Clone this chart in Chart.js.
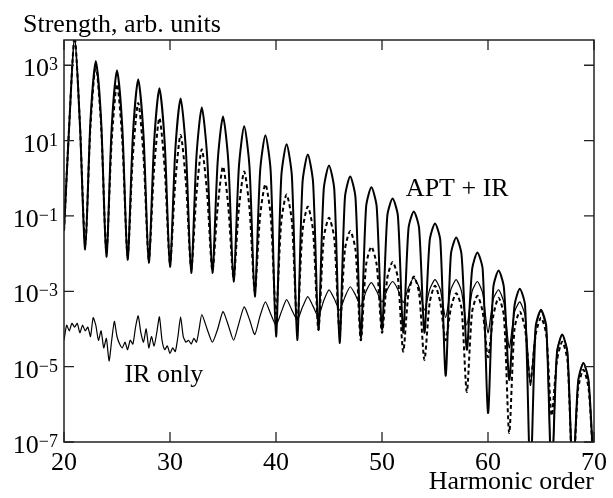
<!DOCTYPE html>
<html>
<head>
<meta charset="utf-8">
<script src="https://cdn.jsdelivr.net/npm/chart.js@4.4.1/dist/chart.umd.min.js"></script>
<style>
  body { margin: 0; background: #fff; }
  #wrap { width: 613px; height: 498px; position: relative; }
</style>
</head>
<body>
<div id="wrap"><canvas id="myChart"></canvas></div>
<script>
// values are log10 of strength
// peaks sit on odd harmonics 21..69, troughs on even harmonics 20..70,
// "mid" = level half an order away from each peak
const peakOrders = [21, 23, 25, 27, 29, 31, 33, 35, 37, 39, 41, 43, 45, 47, 49, 51, 53, 55, 57, 59, 61, 63, 65, 67, 69];
const troughOrders = [20, 22, 24, 26, 28, 30, 32, 34, 36, 38, 40, 42, 44, 46, 48, 50, 52, 54, 56, 58, 60, 62, 64, 66, 68, 70];

// APT + IR, solid
const solidPeak = [3.75, 3.11, 2.87, 2.63, 2.39, 2.12, 1.88, 1.64, 1.38, 1.14, 0.90, 0.63, 0.34, 0.05, -0.24, -0.54, -0.88, -1.20, -1.57, -1.97, -2.45, -2.93, -3.49, -4.15, -4.90];
const solidMid = [1.45, 1.55, 1.35, 1.15, 0.95, 0.75, 0.6, 0.45, 0.3, 0.18, 0.05, -0.12, -0.3, -0.52, -0.76, -1.0, -1.33, -1.65, -2.02, -2.42, -2.90, -3.38, -3.94, -4.65, -5.40];
const solidTrough = [-1.4, -1.89, -2.08, -2.16, -2.24, -2.35, -2.51, -2.51, -2.74, -3.14, -4.2, -4.29, -4.02, -4.37, -4.23, -4.02, -4.1, -4.1, -5.24, -4.55, -6.23, -5.35, -8, -8, -8, -8];

// dashed curve
const dashPeak = [3.75, 3.0, 2.5, 2.0, 1.6, 1.15, 0.77, 0.31, 0.18, -0.16, -0.43, -0.75, -1.05, -1.40, -1.82, -2.22, -2.61, -2.85, -3.05, -3.12, -3.17, -3.54, -3.70, -4.34, -5.08];
const dashMid = [1.45, 1.4, 1.0, 0.6, 0.25, -0.1, -0.4, -0.75, -0.8, -1.0, -1.15, -1.4, -1.6, -1.9, -2.3, -2.65, -3.05, -3.3, -3.45, -3.55, -3.65, -4.0, -4.15, -4.85, -5.6];
const dashTrough = [-1.4, -1.75, -1.95, -2.05, -2.15, -2.25, -2.4, -2.45, -2.65, -3.0, -3.6, -3.9, -4.02, -4.1, -4.3, -4.1, -4.6, -4.82, -4.3, -5.67, -4.75, -6.76, -5.4, -6.3, -8, -8];

// IR only: 20..32.75 every 0.25 (one row per order)
const irFine = [
  -4.3, -3.9, -4.05, -3.85,
  -3.95, -3.85, -4.1, -3.9,
  -4.05, -3.95, -4.2, -3.7,
  -3.9, -4.3, -4.05, -4.5,
  -4.25, -4.85, -4.3, -3.8,
  -4.2, -4.4, -4.5, -4.35,
  -4.55, -4.3, -4.4, -3.95,
  -3.65, -4.1, -4.35, -4.0,
  -4.5, -4.2, -4.45, -4.1,
  -3.68, -4.3, -4.55, -4.45,
  -4.65, -4.5, -4.6, -4.2,
  -3.68, -4.2, -4.35, -4.3,
  -4.4, -4.25, -4.35, -4.0
];
// IR only: 33..70 every 0.5
const irCoarse = [
  -3.62, -4.0, -4.35, -4.0, -3.54, -3.9, -4.3, -3.85,
  -3.41, -3.75, -4.15, -3.65, -3.28, -3.6, -3.9, -3.55,
  -3.22, -3.5, -3.76, -3.42, -3.14, -3.4, -3.67, -3.25,
  -2.96, -3.2, -3.5, -3.15, -2.88, -3.1, -3.4, -3.0,
  -2.77, -3.0, -3.28, -2.95, -2.74, -2.95, -3.3, -2.9,
  -2.64, -2.9, -3.5, -2.95, -2.69, -2.95, -3.7, -2.95,
  -2.69, -3.0, -3.9, -3.0, -2.74, -3.05, -4.1, -3.2,
  -2.96, -3.3, -4.5, -3.55, -3.28, -3.65, -5.5, -3.95,
  -3.52, -4.0, -8, -4.6, -4.15, -4.6, -8, -5.4,
  -4.9, -5.4, -8
];

const yTickExps = [-7, -5, -3, -1, 1, 3];
const xTicks = [20, 30, 40, 50, 60, 70];

function buildFringes(peak, mid, trough) {
  const pts = [];
  for (let i = 0; i < troughOrders.length; i++) {
    pts.push({ x: troughOrders[i], y: Math.pow(10, trough[i]) });
    if (i < peakOrders.length) {
      const h = peakOrders[i];
      pts.push({ x: h - 0.5, y: Math.pow(10, mid[i]) });
      pts.push({ x: h, y: Math.pow(10, peak[i]) });
      pts.push({ x: h + 0.5, y: Math.pow(10, mid[i]) });
    }
  }
  return pts;
}

const irPts = [];
irFine.forEach((v, i) => irPts.push({ x: 20 + i * 0.25, y: Math.pow(10, v) }));
irCoarse.forEach((v, i) => irPts.push({ x: 33 + i * 0.5, y: Math.pow(10, v) }));

const FONT = '"Liberation Serif", "Times New Roman", serif';

const framePlugin = {
  id: 'frame',
  afterDraw(chart) {
    const ctx = chart.ctx;
    const a = chart.chartArea;
    const xs = chart.scales.x, ys = chart.scales.y;
    ctx.save();
    ctx.strokeStyle = '#222';
    ctx.lineWidth = 1.5;
    ctx.strokeRect(a.left, a.top, a.right - a.left, a.bottom - a.top);
    // inward ticks
    ctx.lineWidth = 1.3;
    ctx.beginPath();
    xTicks.forEach(v => {
      const px = xs.getPixelForValue(v);
      ctx.moveTo(px, a.bottom); ctx.lineTo(px, a.bottom - 10);
      ctx.moveTo(px, a.top); ctx.lineTo(px, a.top + 10);
    });
    yTickExps.forEach(e => {
      const py = ys.getPixelForValue(Math.pow(10, e));
      ctx.moveTo(a.left, py); ctx.lineTo(a.left + 10, py);
      ctx.moveTo(a.right, py); ctx.lineTo(a.right - 10, py);
    });
    ctx.stroke();

    // y tick labels 10^n
    ctx.fillStyle = '#000';
    ctx.textAlign = 'right';
    ctx.textBaseline = 'alphabetic';
    yTickExps.forEach(e => {
      const py = ys.getPixelForValue(Math.pow(10, e));
      const expText = e < 0 ? '\u2212' + Math.abs(e) : String(e);
      const right = a.left - 6;
      ctx.font = '18px ' + FONT;
      const w = ctx.measureText(expText).width;
      ctx.fillText(expText, right, py + 5);
      ctx.font = '26px ' + FONT;
      ctx.fillText('10', right - w, py + 11);
    });

    // titles and curve labels
    ctx.font = '26px ' + FONT;
    ctx.textAlign = 'left';
    ctx.fillText('Strength, arb. units', a.left - 41, a.top - 8);
    ctx.textAlign = 'right';
    ctx.fillText('Harmonic order', a.right, chart.height - 9);
    ctx.textAlign = 'left';
    ctx.fillText('APT + IR', xs.getPixelForValue(52.25), ys.getPixelForValue(Math.pow(10, -0.48)));
    ctx.fillText('IR only', xs.getPixelForValue(25.7), ys.getPixelForValue(Math.pow(10, -5.4)));
    ctx.restore();
  }
};

const ctx = document.getElementById('myChart').getContext('2d');
const myChart = new Chart(ctx, {
  type: 'line',
  data: {
    datasets: [{
      label: 'APT + IR',
      data: buildFringes(solidPeak, solidMid, solidTrough),
      borderColor: '#000',
      borderWidth: 2,
      pointRadius: 0,
      tension: 0.25
    }, {
      label: 'APT + IR (dashed)',
      data: buildFringes(dashPeak, dashMid, dashTrough),
      borderColor: '#000',
      borderWidth: 2,
      borderDash: [4, 3],
      pointRadius: 0,
      tension: 0.25
    }, {
      label: 'IR only',
      data: irPts,
      borderColor: '#000',
      borderWidth: 1.2,
      pointRadius: 0,
      tension: 0.2
    }]
  },
  options: {
    responsive: true,
    maintainAspectRatio: false,
    animation: false,
    layout: { padding: { left: 0, right: 16, top: 40, bottom: 0 } },
    plugins: { legend: { display: false }, tooltip: { enabled: false } },
    scales: {
      x: {
        type: 'linear',
        min: 20,
        max: 70,
        afterBuildTicks: s => { s.ticks = xTicks.map(v => ({ value: v })); },
        afterFit: s => { s.height = 56; },
        ticks: { color: '#000', padding: 6, font: { family: FONT, size: 26 }, maxRotation: 0 },
        grid: { display: false, drawTicks: false },
        border: { display: false }
      },
      y: {
        type: 'logarithmic',
        min: 1e-7,
        max: Math.pow(10, 3.67),
        afterFit: s => { s.width = 64; },
        ticks: { display: false },
        grid: { display: false, drawTicks: false },
        border: { display: false }
      }
    }
  },
  plugins: [framePlugin]
});
</script>
</body>
</html>
